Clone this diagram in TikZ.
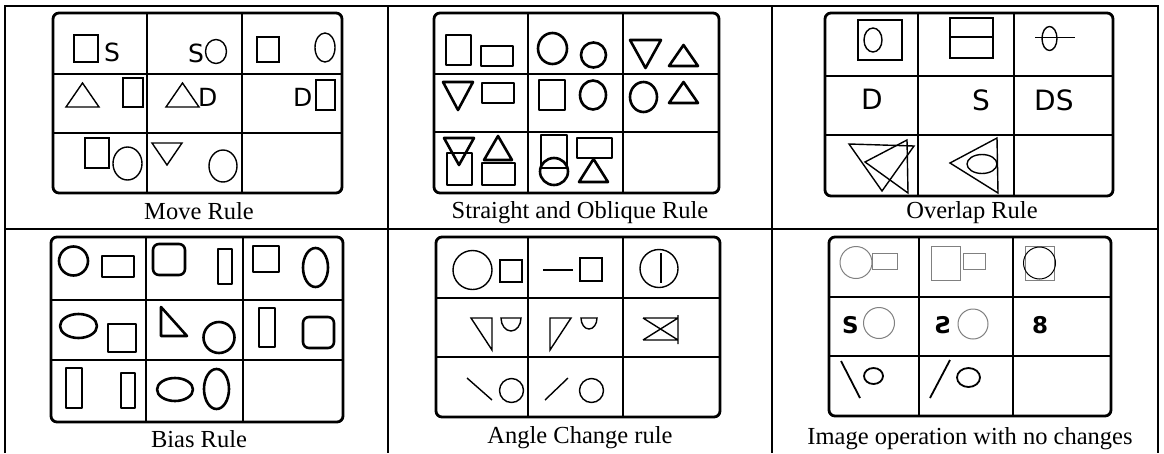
\documentclass[tikz,border=0pt]{standalone}
\usepackage{fontspec}
\setmainfont{Liberation Serif}
\newfontfamily\lettfont{DejaVu Sans}
\begin{document}
\begin{tikzpicture}[x=1pt,y=-1pt,
  tbl/.style={line width=1.8pt},
  frm/.style={line width=2.8pt, rounded corners=6pt},
  grd/.style={line width=2.4pt},
  p1/.style={line width=1.4pt},
  p2/.style={line width=2.6pt, line join=round},
  p3/.style={line width=1.4pt},
  p4/.style={line width=2.6pt, line join=round},
  p5/.style={line width=1.4pt},
  p6/.style={line width=1pt, draw=gray},
  p6b/.style={line width=1.8pt},
  captxt/.style={anchor=base, inner sep=0pt, font=\fontsize{24.5}{28}\selectfont},
  let1/.style={anchor=base west, inner sep=0pt, font=\lettfont\fontsize{25}{25}\selectfont},
  let3/.style={anchor=base west, inner sep=0pt, font=\lettfont\fontsize{28}{28}\selectfont},
  let6/.style={anchor=base west, inner sep=0pt, font=\lettfont\bfseries\fontsize{23}{23}\selectfont}
]
\useasboundingbox (0,0) rectangle (1164,453);
\fill[white] (0,0) rectangle (1164,453);
% outer table
\draw[tbl] (5,453) -- (5,6) -- (1158,6) -- (1158,453);
\draw[tbl] (5,229) -- (1158,229);
\draw[tbl] (388,6) -- (388,453);
\draw[tbl] (772,6) -- (772,453);

% ---------- panel 1 : Move Rule
\draw[frm] (53,13) rectangle (342,193);
\draw[grd] (147,13) -- (147,193) (242,13) -- (242,193) (53,74) -- (342,74) (53,133) -- (342,133);
\draw[p1] (74,35) rectangle (98,62);
\node[let1] (p1s1) at (104,61) {S};
\node[let1] (p1s2) at (188,62) {S};
\draw[p1] (216,51.5) ellipse [x radius=10.5, y radius=12];
\draw[p1] (257,37) rectangle (279,62);
\draw[p1] (325,47.5) ellipse [x radius=10, y radius=14.5];
\draw[p1] (66,107) -- (99,107) -- (82.5,83) -- cycle;
\draw[p1] (123,78) rectangle (143,107);
\draw[p1] (166,107) -- (199,107) -- (182.5,83) -- cycle;
\node[let1] (p1d1) at (198,106) {D};
\node[let1] (p1d2) at (293,106) {D};
\draw[p1] (316,80) rectangle (335,110);
\draw[p1] (85,138) rectangle (109,168);
\draw[p1] (127.5,163.5) ellipse [x radius=14.5, y radius=16.5];
\draw[p1] (152,143) -- (182,143) -- (167,165) -- cycle;
\draw[p1] (223,166) ellipse [x radius=14, y radius=16];
\node[captxt] (c1) at (199,219) {Move Rule};

% ---------- panel 2 : Straight and Oblique Rule
\draw[frm] (434,13) rectangle (719,193);
\draw[grd] (528,13) -- (528,193) (623,13) -- (623,193) (434,74) -- (719,74) (434,132) -- (719,132);
\draw[p2] (446,35) rectangle (471,65);
\draw[p2] (481,46) rectangle (513,66);
\draw[p2] (552.5,48.5) ellipse [x radius=14.5, y radius=15.5];
\draw[p2] (593.5,55) circle [radius=12.5];
\draw[p2] (630,40) -- (661,40) -- (645.5,68) -- cycle;
\draw[p2] (669,66) -- (698,66) -- (683.5,45) -- cycle;
\draw[p2] (443,82) -- (473,82) -- (458,110) -- cycle;
\draw[p2] (482,83) rectangle (514,103);
\draw[p2] (539,80) rectangle (565,110);
\draw[p2] (593,95) ellipse [x radius=13, y radius=14.5];
\draw[p2] (643.5,97) ellipse [x radius=13.5, y radius=15];
\draw[p2] (669,103) -- (698,103) -- (683.5,82) -- cycle;
\draw[p2] (444,138) -- (474,138) -- (459,165) -- cycle;
\draw[p2] (447,153) rectangle (472,185);
\draw[p2] (484,160) -- (512,160) -- (498,136) -- cycle;
\draw[p2] (482,163) rectangle (515,185);
\draw[p2] (541,135) rectangle (567,168);
\draw[p2] (554,171.5) ellipse [x radius=14, y radius=13.5];
\draw[p2] (577,138) rectangle (612,158);
\draw[p2] (579,182) -- (608,182) -- (593.5,159) -- cycle;
\node[captxt] (c2) at (580,218) {Straight and Oblique Rule};

% ---------- panel 3 : Overlap Rule
\draw[frm] (825,13) rectangle (1113,196);
\draw[grd] (918,13) -- (918,196) (1014,13) -- (1014,196) (825,76) -- (1113,76) (825,135) -- (1113,135);
\draw[p3] (858,20) rectangle (902,60);
\draw[p3] (873,40) ellipse [x radius=9, y radius=12];
\draw[p3] (950,18) rectangle (993,58);
\draw[p3] (950,37) -- (993,37);
\draw[p3] (1049.5,38.5) ellipse [x radius=7.5, y radius=12];
\draw[p3] (1035,37.5) -- (1075,37.5);
\node[let3] (p3d) at (861,109) {D};
\node[let3] (p3s) at (972,110) {S};
\node[let3] (p3ds) at (1034,110) {DS};
\draw[p3] (849,144) -- (914,146) -- (882,191) -- cycle;
\draw[p3] (907,140) -- (865,162) -- (908,193) -- cycle;
\draw[p3] (950,163) -- (997,138) -- (998,193) -- cycle;
\draw[p3] (982,164) ellipse [x radius=15, y radius=9.5];
\node[captxt] (c3) at (972,218) {Overlap Rule};

% ---------- panel 4 : Bias Rule
\draw[frm] (51,237) rectangle (343,422);
\draw[grd] (146,237) -- (146,422) (243,237) -- (243,422) (51,300) -- (343,300) (51,360) -- (343,360);
\draw[p4] (73.5,261) circle [radius=14.5];
\draw[p4] (102,256) rectangle (134,277);
\draw[p4,rounded corners=6pt] (153,244) rectangle (185,275);
\draw[p4] (218,249) rectangle (232,284);
\draw[p4] (253,246) rectangle (279,272);
\draw[p4] (315.5,267.5) ellipse [x radius=12.5, y radius=19.5];
\draw[p4] (78.5,326) ellipse [x radius=18.5, y radius=12];
\draw[p4] (108,324) rectangle (136,352);
\draw[p4] (161,307) -- (161,336) -- (187,336) -- cycle;
\draw[p4] (219,337.5) circle [radius=15.5];
\draw[p4] (259,308) rectangle (275,347);
\draw[p4,rounded corners=6pt] (303,317) rectangle (334,348);
\draw[p4] (66,368) rectangle (82,408);
\draw[p4] (121,373) rectangle (135,408);
\draw[p4] (175,389.5) ellipse [x radius=18, y radius=11.5];
\draw[p4] (216.5,389) ellipse [x radius=12.5, y radius=20];
\node[captxt] (c4) at (199,447) {Bias Rule};

% ---------- panel 5 : Angle Change rule
\draw[frm] (436,237) rectangle (720,417);
\draw[grd] (528,237) -- (528,417) (623,237) -- (623,417) (436,298) -- (720,298) (436,357) -- (720,357);
\draw[p5] (472.5,270) circle [radius=19.5];
\draw[p5] (500,260) rectangle (522,282);
\draw[p5] (543,270) -- (573,270);
\draw[p5] (580,258) rectangle (602,281);
\draw[p5] (659,268.5) circle [radius=19];
\draw[p5] (661,253) -- (661,283);
\draw[p5] (471,318) -- (492,318) -- (492,350) -- cycle;
\draw[p5] (521,318) arc [start angle=0, end angle=180, x radius=10, y radius=13] -- cycle;
\draw[p5] (550,318) -- (571,318) -- (550,350) -- cycle;
\draw[p5] (597,318) arc [start angle=0, end angle=180, x radius=8, y radius=11] -- cycle;
\draw[p5] (643,318) -- (678,318) (643,340) -- (678,340) (678,315) -- (678,344)
          (643,318) -- (678,340) (643,340) -- (678,318);
\draw[p5] (467,378) -- (492,400);
\draw[p5] (511.5,390.5) circle [radius=12];
\draw[p5] (545,400) -- (568,378);
\draw[p5] (591.5,390.5) circle [radius=12];
\node[captxt] (c5) at (580,443) {Angle Change rule};

% ---------- panel 6 : Image operation with no changes
\draw[frm] (829,237) rectangle (1111,416);
\draw[grd] (919,237) -- (919,416) (1013,237) -- (1013,416) (829,297) -- (1111,297) (829,356) -- (1111,356);
\draw[p6] (856,262.5) circle [radius=16];
\draw[p6] (872,253) rectangle (897,269);
\draw[p6] (931,246) rectangle (960,280);
\draw[p6] (963,253) rectangle (985,269);
\draw[p6] (1025,246) rectangle (1054,280);
\draw[line width=1pt] (1039.5,263) circle [radius=16];
\node[let6] (p6s1) at (842,333) {S};
\draw[p6] (879,323) circle [radius=15.5];
\node[let6, anchor=base east, xscale=-1] (p6s2) at (934,333) {S};
\draw[p6] (973,324) circle [radius=15];
\node[let6] (p6e) at (1032,333) {8};
\draw[p6b] (841,361) -- (860,398);
\draw[p6b] (873.5,376) ellipse [x radius=9.5, y radius=8];
\draw[p6b] (930,398) -- (950,360);
\draw[p6b] (968.5,377.5) ellipse [x radius=11.5, y radius=9.5];
\node[captxt] (c6) at (970,444) {Image operation with no changes};
\end{tikzpicture}
\end{document}
